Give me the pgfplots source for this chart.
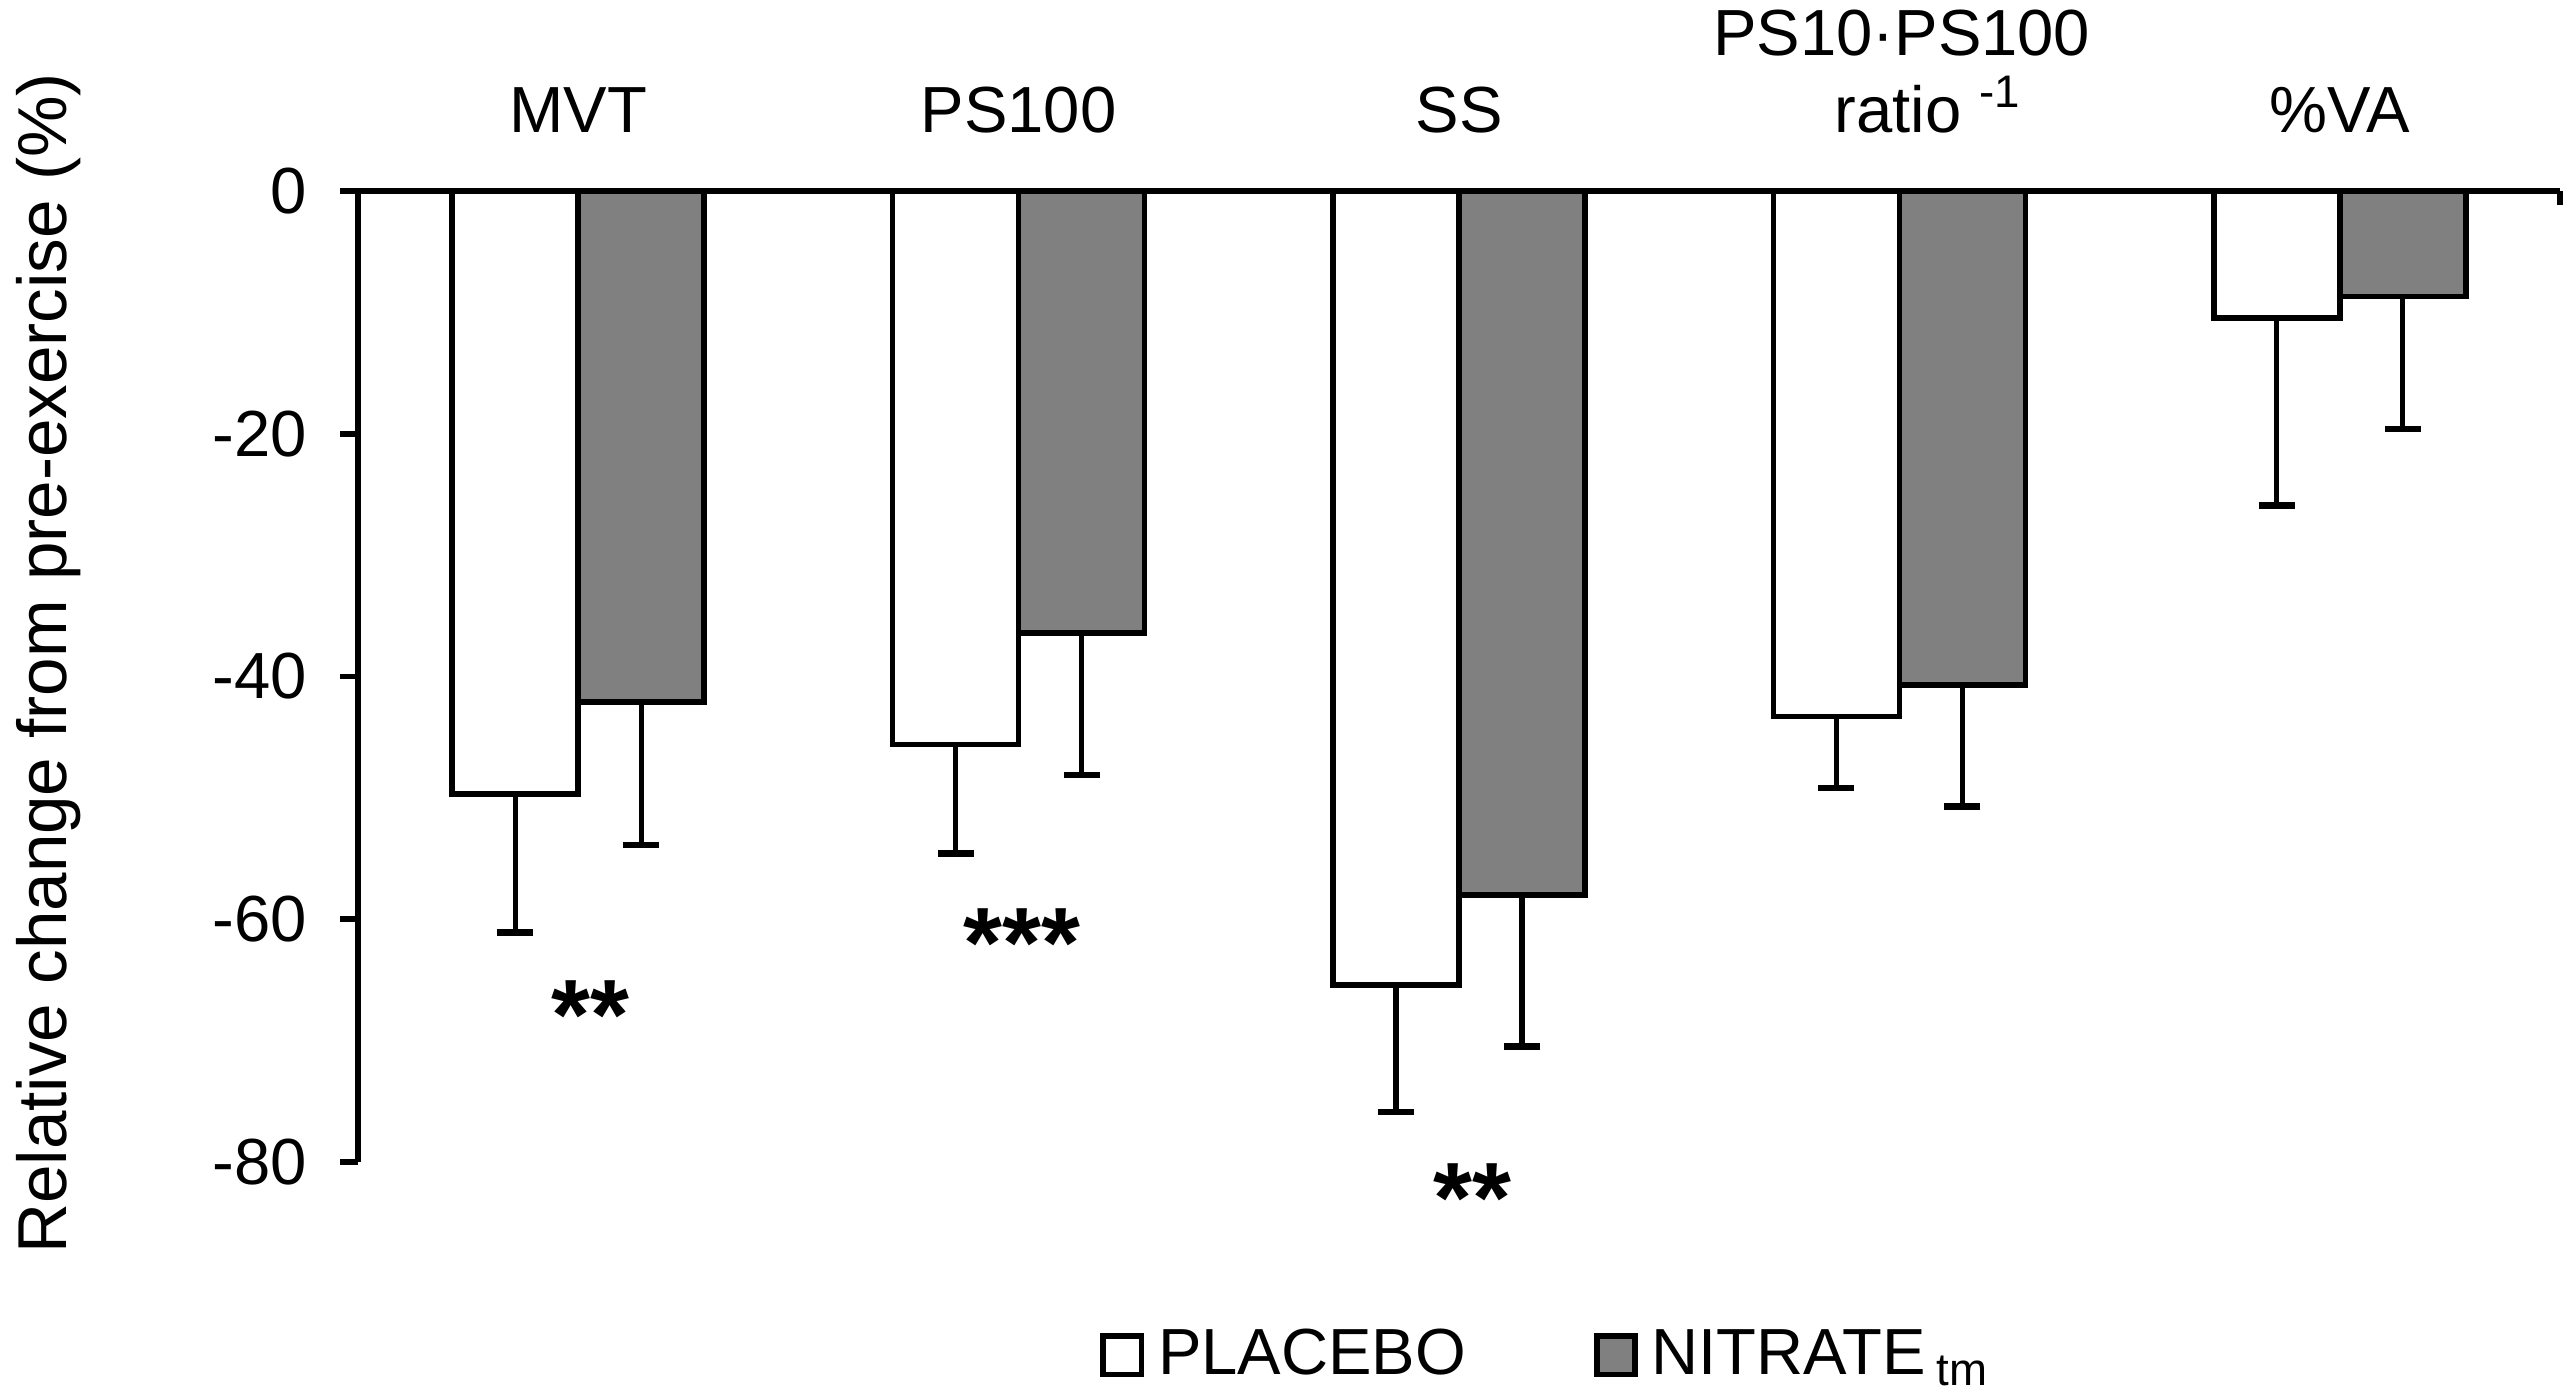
\documentclass[border=0pt]{standalone}
\usepackage{pgfplots}
\pgfplotsset{compat=1.18}
\usepackage{fontspec}
\setmainfont{Liberation Sans}
\definecolor{barGray}{RGB}{128,128,128}
\begin{document}
\begin{tikzpicture}[font=\fontsize{16.3}{19.5}\selectfont]
\begin{axis}[
  at={(0,0)}, anchor=south west,
  scale only axis,
  width=550.5pt, height=242.75pt,
  xmin=-0.5, xmax=4.5, ymin=-80, ymax=0,
  enlargelimits=false,
  clip=false,
  axis x line=top, axis y line=left,
  axis line style={-, line width=1.4pt},
  xtick=\empty,
  ytick={-80,-60,-40,-20,0},
  yticklabels={-80,-60,-40,-20,0},
  /pgf/number format/assume math mode=true,
  tick align=outside,
  major tick length=4.5pt,
  ytick style={line width=1.4pt, black},
  yticklabel style={anchor=east, inner sep=0pt, xshift=-8pt},
  ylabel={Relative change from pre-exercise (\%)},
  ylabel style={at={(axis description cs:-0.1403,0.5)}, anchor=center, inner sep=0pt,
    xshift=3.3pt, font=\fontsize{17.3}{20}\selectfont},
  ybar=0pt,
  bar width=31.5pt,
  legend columns=2,
  legend style={draw=none, fill=none, at={(axis description cs:0.539,-0.199)}, anchor=center,
    /tikz/every even column/.append style={column sep=32pt},
    nodes={inner sep=0pt}},
  legend image code/.code={\draw[#1, line width=1.4pt] (0pt,-4.8pt) rectangle (9.6pt,4.8pt); \path (13pt,0pt);},
]
\addplot[draw=black, fill=white, line width=1.4pt,
  error bars/.cd, y dir=minus, y explicit,
  error bar style={line width=1.3pt, black},
  error mark options={rotate=90, mark size=4.5pt, line width=1.6pt, black}]
  coordinates {
  (0,-49.7) -= (0,11.4)
  (1,-45.6) -= (0,9.0)
  (2,-65.4) -= (0,10.5)
  (3,-43.3) -= (0,5.9)
  (4,-10.45) -= (0,15.45)
  };
\addlegendentry{PLACEBO}
\addplot[draw=black, fill=barGray, line width=1.4pt,
  error bars/.cd, y dir=minus, y explicit,
  error bar style={line width=1.3pt, black},
  error mark options={rotate=90, mark size=4.5pt, line width=1.6pt, black}]
  coordinates {
  (0,-42.1) -= (0,11.8)
  (1,-36.4) -= (0,11.7)
  (2,-58.0) -= (0,12.5)
  (3,-40.7) -= (0,10.0)
  (4,-8.7) -= (0,10.9)
  };
\addlegendentry{NITRATE\,\textsubscript{tm}}
% category labels
\node[anchor=base, yshift=14.5pt] at (axis cs:0,0) {MVT};
\node[anchor=base, yshift=14.5pt] at (axis cs:1,0) {PS100};
\node[anchor=base, yshift=14.5pt] at (axis cs:2,0) {SS};
\node[anchor=base, yshift=33.75pt, xshift=0.6pt] at (axis cs:3,0) {PS10·PS100};
\node[anchor=base, yshift=14.5pt, xshift=7.2pt] at (axis cs:3,0) {ratio \textsuperscript{-1}};
\node[anchor=base, yshift=14.5pt] at (axis cs:4,0) {\%VA};
% significance markers
\node[anchor=base, font=\fontsize{25}{30}\selectfont\bfseries] at (axis cs:0.027,-70.7) {**};
\node[anchor=base, font=\fontsize{25}{30}\selectfont\bfseries] at (axis cs:1.008,-64.8) {***};
\node[anchor=base, font=\fontsize{25}{30}\selectfont\bfseries] at (axis cs:2.03,-85.8) {**};
% right-end tick
\draw[line width=1.4pt] (axis cs:4.5,0) -- ++(0pt,-3.5pt);
\end{axis}
\pgfresetboundingbox
\path[use as bounding box] (-89.5pt,-59.25pt) rectangle (553pt,290.5pt);
\end{tikzpicture}
\end{document}
